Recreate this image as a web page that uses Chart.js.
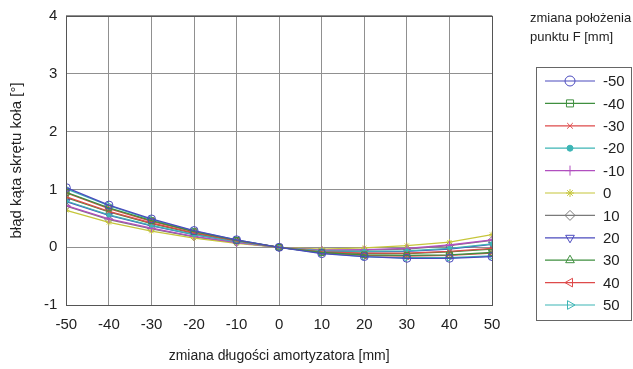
<!DOCTYPE html>
<html>
<head>
<meta charset="utf-8">
<script src="https://cdn.jsdelivr.net/npm/chart.js@4.4.1/dist/chart.umd.min.js"></script>
<style>
  html, body { margin: 0; padding: 0; background: #fff; }
  #wrap { width: 633px; height: 369px; }
</style>
</head>
<body>
<div id="wrap"><canvas id="c" width="633" height="369"></canvas></div>
<script>
// shock absorber length change [mm]
var xValues = [-50, -40, -30, -20, -10, 0, 10, 20, 30, 40, 50];
var yTicks = [-1, 0, 1, 2, 3, 4];

// steering angle error [deg] for each change of point F position [mm]
var fMinus50 = [1.03, 0.73, 0.49, 0.29, 0.13, 0, -0.11, -0.16, -0.19, -0.19, -0.16];
var fMinus40 = [0.95, 0.68, 0.46, 0.27, 0.12, 0, -0.09, -0.13, -0.14, -0.13, -0.09];
var fMinus30 = [0.87, 0.62, 0.42, 0.25, 0.11, 0, -0.08, -0.10, -0.10, -0.07, -0.02];
var fMinus20 = [0.80, 0.56, 0.38, 0.22, 0.10, 0, -0.06, -0.07, -0.06, -0.02, 0.06];
var fMinus10 = [0.72, 0.49, 0.33, 0.19, 0.08, 0, -0.05, -0.04, -0.02, 0.04, 0.13];
var f0       = [0.64, 0.43, 0.28, 0.16, 0.07, 0, -0.03, -0.01, 0.03, 0.09, 0.22];
var f10      = [0.71, 0.48, 0.32, 0.18, 0.08, 0, -0.05, -0.05, -0.03, 0.03, 0.12];
var f20      = [0.79, 0.55, 0.37, 0.22, 0.10, 0, -0.06, -0.08, -0.07, -0.03, 0.05];
var f30      = [0.86, 0.61, 0.41, 0.24, 0.11, 0, -0.08, -0.11, -0.11, -0.08, -0.03];
var f40      = [0.94, 0.67, 0.45, 0.27, 0.12, 0, -0.09, -0.14, -0.15, -0.14, -0.10];
var f50      = [1.01, 0.72, 0.48, 0.28, 0.13, 0, -0.10, -0.16, -0.18, -0.18, -0.15];

var seriesLabels = ["-50", "-40", "-30", "-20", "-10", "0", "10", "20", "30", "40", "50"];
var seriesData = [fMinus50, fMinus40, fMinus30, fMinus20, fMinus10, f0, f10, f20, f30, f40, f50];

var colors = ["#4b4bbe", "#3f8f3f", "#de4a4a", "#3db5b5", "#b14fbf", "#c6c63a",
              "#7a7a7a", "#4b4bbe", "#3f8f3f", "#de4a4a", "#3db5b5"];
var styles = ["circle", "rect", "crossRot", "circle", "cross", "star",
              "rectRot", "triangle", "triangle", "triangle", "triangle"];
var rotations = [0, 0, 0, 0, 0, 0, 0, 180, 0, 270, 90];
var radii = [4, 4, 3, 2, 4, 3, 4, 4, 4, 4, 4];
var filled = [false, false, false, true, false, true, false, false, false, false, false];

var font = "'Liberation Sans', Arial, sans-serif";

var datasets = seriesData.map(function (arr, i) {
  return {
    label: seriesLabels[i],
    data: arr.map(function (v, j) { return { x: xValues[j], y: v }; }),
    borderColor: colors[i],
    borderWidth: 1.3,
    pointStyle: styles[i],
    pointRotation: rotations[i],
    pointRadius: radii[i],
    pointBorderWidth: 1,
    pointBorderColor: colors[i],
    pointBackgroundColor: filled[i] ? colors[i] : "rgba(0,0,0,0)",
    tension: 0
  };
});

// frame around the plot + the side legend box
var sidePlugin = {
  id: "side",
  afterDraw: function (chart) {
    var ctx = chart.ctx;
    var a = chart.chartArea;
    ctx.save();
    ctx.strokeStyle = "#555";
    ctx.lineWidth = 1;
    ctx.strokeRect(Math.round(a.left) + 0.5, Math.round(a.top) + 0.5,
      Math.round(a.right - a.left), Math.round(a.bottom - a.top));

    ctx.fillStyle = "#222";
    ctx.font = "13px " + font;
    ctx.textBaseline = "middle";
    ctx.textAlign = "left";
    ctx.fillText("zmiana położenia", 530, 18);
    ctx.fillText("punktu F [mm]", 530, 37);

    var bx = 536, by = 67, bw = 95, bh = 253;
    ctx.strokeStyle = "#666";
    ctx.strokeRect(bx + 0.5, by + 0.5, bw, bh);

    ctx.font = "15px " + font;
    chart.data.datasets.forEach(function (ds, i) {
      var y = 81 + i * 22.4;
      ctx.strokeStyle = ds.borderColor;
      ctx.lineWidth = 1.2;
      ctx.beginPath();
      ctx.moveTo(545, y);
      ctx.lineTo(595, y);
      ctx.stroke();
      ctx.lineWidth = 1;
      ctx.fillStyle = ds.pointBackgroundColor;
      Chart.helpers.drawPoint(ctx, {
        pointStyle: ds.pointStyle,
        rotation: ds.pointRotation,
        radius: ds.pointRadius + 1,
        borderWidth: 1
      }, 570, y);
      ctx.fillStyle = "#222";
      ctx.fillText(ds.label, 603, y + 1);
    });
    ctx.restore();
  }
};

new Chart(document.getElementById("c"), {
  type: "line",
  data: { datasets: datasets },
  options: {
    responsive: false,
    animation: false,
    layout: { padding: { left: 8, right: 141, top: 7, bottom: 4 } },
    plugins: { legend: { display: false }, tooltip: { enabled: false } },
    scales: {
      x: {
        type: "linear",
        min: -50, max: 50,
        afterBuildTicks: function (axis) {
          axis.ticks = xValues.map(function (v) { return { value: v }; });
        },
        grid: { color: "#909090", drawTicks: false, lineWidth: 1 },
        border: { display: false },
        ticks: { color: "#222", font: { family: font, size: 15 }, padding: 11 },
        title: {
          display: true, text: "zmiana długości amortyzatora [mm]",
          color: "#222", font: { family: font, size: 14 }, padding: { top: 3, bottom: 0 }
        }
      },
      y: {
        min: -1, max: 4,
        afterBuildTicks: function (axis) {
          axis.ticks = yTicks.map(function (v) { return { value: v }; });
        },
        grid: { color: "#909090", drawTicks: false, lineWidth: 1 },
        border: { display: false },
        ticks: { color: "#222", font: { family: font, size: 15, lineHeight: 0.9 }, padding: 9 },
        title: {
          display: true, text: "błąd kąta skrętu koła [°]",
          color: "#222", font: { family: font, size: 15 }, padding: { top: 0, bottom: 9 }
        }
      }
    }
  },
  plugins: [sidePlugin]
});
</script>
</body>
</html>
